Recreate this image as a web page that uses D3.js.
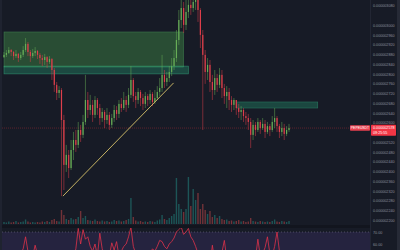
<!DOCTYPE html>
<html>
<head>
<meta charset="utf-8">
<script src="https://cdn.jsdelivr.net/npm/d3@7"></script>
<style>
  html, body { margin: 0; padding: 0; background: #171b26; overflow: hidden; }
  svg { display: block; }
</style>
</head>
<body>
<svg width="400" height="250"></svg>
<script>
// *** DATA *** (prices in units of 1e-9)
const firstOpen = 2869;
const closes = [
  2878, 2886, 2898, 2890, 2873, 2882, 2865, 2878, 2898, 2923,
  2890, 2873, 2886, 2894, 2878, 2865, 2857, 2869, 2849, 2861,
  2816, 2755, 2722, 2734, 2611, 2427, 2468, 2414, 2488, 2529,
  2509, 2570, 2550, 2603, 2693, 2652, 2673, 2632, 2693, 2660,
  2619, 2644, 2611, 2632, 2591, 2619, 2652, 2636, 2677, 2660,
  2693, 2673, 2714, 2775, 2709, 2693, 2726, 2701, 2677, 2709,
  2693, 2718, 2685, 2701, 2726, 2742, 2796, 2767, 2783, 2808,
  2832, 2865, 2939, 3021, 3070, 3001, 3054, 3083, 3070, 3095,
  3111, 3062, 2960, 2878, 2808, 2837, 2767, 2734, 2783, 2755,
  2796, 2742, 2709, 2726, 2693, 2673, 2693, 2660, 2644, 2652,
  2627, 2619, 2603, 2550, 2591, 2570, 2603, 2578, 2595, 2562,
  2586, 2570, 2603, 2619, 2586, 2562, 2578, 2554, 2570, 2578
];
const highs = [
  2890, 2898, 2910, 2902, 2894, 2898, 2886, 2890, 2914, 2947,
  2931, 2898, 2902, 2910, 2898, 2886, 2878, 2882, 2873, 2873,
  2865, 2824, 2767, 2750, 2742, 2632, 2509, 2488, 2529, 2562,
  2570, 2603, 2591, 2632, 2796, 2726, 2714, 2693, 2709, 2701,
  2677, 2660, 2652, 2660, 2644, 2636, 2673, 2668, 2693, 2701,
  2726, 2709, 2742, 2832, 2783, 2726, 2742, 2734, 2718, 2726,
  2718, 2734, 2726, 2734, 2750, 2783, 2878, 2816, 2808, 2832,
  2865, 2898, 2980, 3062, 3124, 3095, 3103, 3136, 3103, 3144,
  3165, 3124, 3070, 2980, 2898, 2865, 2857, 2796, 2816, 2800,
  2824, 2816, 2759, 2750, 2742, 2709, 2701, 2693, 2677, 2668,
  2660, 2644, 2636, 2619, 2611, 2603, 2619, 2611, 2619, 2611,
  2603, 2595, 2627, 2660, 2627, 2595, 2603, 2595, 2586, 2595
];
const lows = [
  2865, 2869, 2882, 2873, 2857, 2865, 2849, 2857, 2869, 2890,
  2873, 2849, 2865, 2873, 2861, 2841, 2832, 2837, 2824, 2841,
  2775, 2726, 2693, 2701, 2299, 2324, 2398, 2373, 2406, 2447,
  2480, 2496, 2521, 2537, 2591, 2619, 2632, 2603, 2619, 2632,
  2591, 2603, 2578, 2595, 2570, 2578, 2603, 2611, 2619, 2644,
  2652, 2644, 2660, 2701, 2685, 2660, 2677, 2668, 2652, 2660,
  2668, 2677, 2668, 2677, 2693, 2709, 2726, 2742, 2750, 2767,
  2791, 2816, 2849, 2919, 2988, 2968, 2980, 3029, 3042, 3054,
  3062, 3013, 2906, 2570, 2759, 2775, 2726, 2693, 2714, 2726,
  2742, 2701, 2677, 2660, 2652, 2644, 2652, 2632, 2619, 2611,
  2603, 2591, 2570, 2496, 2529, 2545, 2562, 2554, 2570, 2537,
  2554, 2545, 2562, 2578, 2562, 2537, 2545, 2529, 2545, 2562
];
const volumes = [
  4, 3, 5, 3, 4, 6, 3, 4, 5, 9,
  5, 3, 4, 3, 4, 3, 5, 4, 6, 4,
  8, 10, 6, 5, 28, 18, 10, 8, 12, 9,
  10, 14, 26, 12, 16, 8, 7, 6, 9, 6,
  5, 7, 5, 6, 4, 5, 8, 6, 7, 5,
  6, 8, 10, 52, 14, 7, 5, 6, 4, 5,
  4, 6, 5, 4, 7, 9, 18, 10, 8, 12,
  16, 20, 92, 40, 30, 24, 30, 94, 36, 70,
  48, 62, 30, 40, 28, 20, 26, 14, 18, 12,
  16, 10, 8, 9, 6, 7, 5, 6, 8, 5,
  6, 4, 5, 12, 6, 5, 4, 6, 5, 4,
  5, 4, 6, 9, 5, 4, 6, 5, 4, 6
];
const rsi = [
  48, 46, 50, 47, 44, 49, 45, 52, 56, 66,
  54, 47, 50, 59, 51, 45, 48, 50, 55, 46,
  38, 32, 30, 34, 28, 22, 30, 28, 40, 48,
  56, 73, 60, 72, 64, 66, 58, 54, 60, 50,
  69, 56, 48, 52, 50, 61, 55, 62, 50, 54,
  58, 60, 66, 74, 58, 52, 54, 50, 48, 53,
  55, 52, 56, 54, 58, 63, 62, 58, 56, 60,
  62, 65, 70, 72, 74, 68, 70, 73, 66, 63,
  58, 52, 44, 38, 40, 46, 42, 59, 45, 50,
  44, 53, 63, 48, 45, 42, 46, 40, 38, 44,
  42, 45, 40, 36, 46, 48, 64, 50, 52, 57,
  66, 52, 50, 58, 70, 54, 48, 50, 53, 52
];
const priceTicks = [3080, 3000, 2960, 2920, 2880, 2840, 2800, 2760, 2720, 2680, 2640, 2600,
  2520, 2480, 2440, 2400, 2360, 2320, 2280, 2240, 2200];
const rsiTicks = [70, 60];
// zones: candle index range and price range
const zoneFrom = [0, 0, 97];
const zoneTo = [75, 77, 131];
const zoneTop = [2972, 2832, 2685];
const zoneBottom = [2828, 2800, 2660];
const trendIdx = [24.6, 70.8];
const trendPrice = [2299, 2763];
const lastPrice = 2578;
const symbolText = "PEPEUSDT";
const countdown = "09:25:55";

// *** LAYOUT ***
const svg = d3.select("svg");
const width = 400, height = 250;
const axisX = 370;
const mainBottom = 224;
const paneTop = 228;
const font = "'Liberation Sans', Arial, sans-serif";
const up = "#67ad57", down = "#de3f4b";
const fmtPrice = d => d3.format(".9f")(d * 1e-9);

const candles = closes.map((c, i) => {
    const o = i ? closes[i - 1] : firstOpen;
    return { i, o, c, h: Math.max(highs[i], o, c), l: Math.min(lows[i], o, c), v: volumes[i] };
});

const x = d3.scaleLinear().domain([0, 119]).range([4, 289]);
const y = d3.scaleLinear().domain([2192.8, 3103]).range([222, 0]);
const yVol = d3.scaleLinear().domain([0, 130]).range([mainBottom, 159]);
const yRsi = d3.scaleLinear().domain([50, 80]).range([256, 220]);

// backgrounds
svg.append("rect").attr("width", width).attr("height", height).attr("fill", "#171b26");
svg.append("rect").attr("x", 0).attr("width", 2).attr("height", height).attr("fill", "#1f2330");
svg.append("rect").attr("x", 397).attr("width", 3).attr("height", height).attr("fill", "#262a36");
svg.append("line").attr("x1", axisX + 0.5).attr("x2", axisX + 0.5).attr("y1", 0).attr("y2", height)
    .attr("stroke", "#222633");
svg.append("rect").attr("x", 2).attr("y", mainBottom + 1).attr("width", axisX - 2).attr("height", 3)
    .attr("fill", "#12151e");

const defs = svg.append("defs");
defs.append("clipPath").attr("id", "mainClip").append("rect")
    .attr("x", 2).attr("y", 0).attr("width", axisX - 2).attr("height", mainBottom);
defs.append("clipPath").attr("id", "paneClip").append("rect")
    .attr("x", 2).attr("y", paneTop).attr("width", axisX - 2).attr("height", height - paneTop);

const main = svg.append("g").attr("clip-path", "url(#mainClip)");

// volume
main.append("g").selectAll("rect").data(candles).join("rect")
    .attr("x", d => x(d.i) - 0.7)
    .attr("width", 1.4)
    .attr("y", d => yVol(d.v))
    .attr("height", d => mainBottom - yVol(d.v))
    .attr("fill", d => d.c >= d.o ? "rgba(38,166,154,0.42)" : "rgba(239,83,80,0.42)");

// zones
const zoneFill = ["rgba(76,175,80,0.34)", "rgba(38,166,120,0.33)", "rgba(38,166,120,0.32)"];
const zoneStroke = ["rgba(90,190,110,0.45)", "rgba(60,190,140,0.6)", "rgba(60,190,140,0.45)"];
main.append("g").selectAll("rect").data(zoneFrom).join("rect")
    .attr("x", (d, k) => x(zoneFrom[k]))
    .attr("width", (d, k) => x(zoneTo[k]) - x(zoneFrom[k]))
    .attr("y", (d, k) => y(zoneTop[k]))
    .attr("height", (d, k) => y(zoneBottom[k]) - y(zoneTop[k]))
    .attr("fill", (d, k) => zoneFill[k])
    .attr("stroke", (d, k) => zoneStroke[k])
    .attr("stroke-width", 0.6);

// current price line
main.append("line")
    .attr("x1", 2).attr("x2", axisX)
    .attr("y1", y(lastPrice)).attr("y2", y(lastPrice))
    .attr("stroke", "#7a2630").attr("stroke-width", 0.7).attr("stroke-dasharray", "1,1");

// candles
const cg = main.append("g");
cg.selectAll("line").data(candles).join("line")
    .attr("x1", d => x(d.i)).attr("x2", d => x(d.i))
    .attr("y1", d => y(d.h)).attr("y2", d => y(d.l))
    .attr("stroke", d => d.c >= d.o ? up : down)
    .attr("stroke-width", 0.5);
cg.selectAll("rect").data(candles).join("rect")
    .attr("x", d => x(d.i) - 0.6)
    .attr("width", 1.2)
    .attr("y", d => y(Math.max(d.o, d.c)))
    .attr("height", d => Math.max(0.6, Math.abs(y(d.o) - y(d.c))))
    .attr("fill", d => d.c >= d.o ? up : down);

// trendline
main.append("line")
    .attr("x1", x(trendIdx[0])).attr("y1", y(trendPrice[0]))
    .attr("x2", x(trendIdx[1])).attr("y2", y(trendPrice[1]))
    .attr("stroke", "#d8c36a").attr("stroke-width", 0.9);

// price axis
const axis = svg.append("g").attr("transform", `translate(${axisX},0)`)
    .call(d3.axisRight(y).tickValues(priceTicks).tickSize(0).tickPadding(3).tickFormat(fmtPrice));
axis.select(".domain").remove();
axis.selectAll("text").attr("font-family", font).attr("font-size", 3.7).attr("fill", "#8c909b");

// price labels
const py = y(lastPrice);
svg.append("rect").attr("x", 350).attr("y", py - 2.8).attr("width", 20).attr("height", 5.6)
    .attr("rx", 0.8).attr("fill", "#e8404f");
svg.append("text").attr("x", 360).attr("y", py + 1.2).attr("text-anchor", "middle")
    .attr("font-family", font).attr("font-size", 3.4).attr("fill", "#fff").text(symbolText);
svg.append("rect").attr("x", axisX + 1).attr("y", py - 3.2).attr("width", 25).attr("height", 11)
    .attr("rx", 0.8).attr("fill", "#f23645");
svg.append("text").attr("x", axisX + 3).attr("y", py + 1.3)
    .attr("font-family", font).attr("font-size", 3.7).attr("fill", "#fff").text(fmtPrice(lastPrice));
svg.append("text").attr("x", axisX + 3).attr("y", py + 6)
    .attr("font-family", font).attr("font-size", 3.7).attr("fill", "#fff").text(countdown);

// lower pane
svg.append("rect").attr("x", 2).attr("y", yRsi(70)).attr("width", axisX - 2)
    .attr("height", height - yRsi(70)).attr("fill", "#25233f");
svg.append("line").attr("x1", 2).attr("x2", axisX)
    .attr("y1", yRsi(70)).attr("y2", yRsi(70))
    .attr("stroke", "#6b6d80").attr("stroke-width", 0.6).attr("stroke-dasharray", "1,2");
svg.append("g").attr("clip-path", "url(#paneClip)").append("path")
    .datum(rsi)
    .attr("fill", "none")
    .attr("stroke", "#e0324a")
    .attr("stroke-width", 0.8)
    .attr("d", d3.line().x((d, i) => x(i)).y(d => yRsi(d)));

const raxis = svg.append("g").attr("transform", `translate(${axisX},0)`)
    .call(d3.axisRight(yRsi).tickValues(rsiTicks).tickSize(0).tickPadding(3).tickFormat(d3.format(".2f")));
raxis.select(".domain").remove();
raxis.selectAll("text").attr("font-family", font).attr("font-size", 3.7).attr("fill", "#8c909b");
</script>
</body>
</html>
